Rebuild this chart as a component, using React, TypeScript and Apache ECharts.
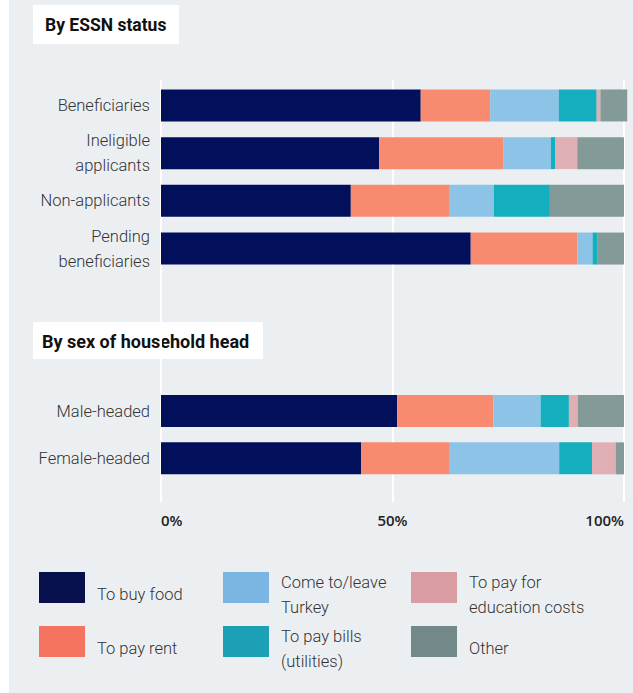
import React, { useEffect, useRef } from "react";
import * as echarts from "echarts";

const categoriesStatus = ["Beneficiaries", "Ineligible\napplicants", "Non-applicants", "Pending\nbeneficiaries"];
const categoriesSex = ["Male-headed", "Female-headed"];

const seriesNames = [
  "To buy food",
  "To pay rent",
  "Come to/leave Turkey",
  "To pay bills (utilities)",
  "To pay for education costs",
  "Other",
];
const legendLabels = [
  ["To buy food"],
  ["To pay rent"],
  ["Come to/leave", "Turkey"],
  ["To pay bills", "(utilities)"],
  ["To pay for", "education costs"],
  ["Other"],
];

const foodStatus = [56.1, 47.1, 41.0, 66.9];
const rentStatus = [15.0, 26.9, 21.2, 23.0];
const travelStatus = [14.8, 10.2, 9.7, 3.3];
const billsStatus = [8.2, 0.9, 12.1, 1.0];
const educationStatus = [0.8, 4.8, 0, 0];
const otherStatus = [5.8, 10.1, 16.0, 5.8];

const foodSex = [51.0, 43.2];
const rentSex = [20.8, 19.0];
const travelSex = [10.2, 23.8];
const billsSex = [6.1, 7.1];
const educationSex = [1.9, 5.1];
const otherSex = [10.0, 1.8];

const xTicks = [0, 50, 100];

const barColors = ["#020F5B", "#F88A6F", "#8DC3E7", "#13AFBF", "#DFAFB3", "#849A99"];
const legendColors = ["#07104D", "#F47460", "#7BB6E3", "#1CA0B5", "#D89CA2", "#738989"];

const FONT = '"Roboto", sans-serif';

export default function App() {
  const ref = useRef<HTMLDivElement>(null);

  useEffect(() => {
    if (!ref.current) return;
    const chart = echarts.init(ref.current, undefined, { renderer: "svg" });

    const statusData = [foodStatus, rentStatus, travelStatus, billsStatus, educationStatus, otherStatus];
    const sexData = [foodSex, rentSex, travelSex, billsSex, educationSex, otherSex];

    const series: any[] = [];
    seriesNames.forEach((name, i) => {
      series.push({
        type: "bar",
        name,
        stack: "status",
        xAxisIndex: 0,
        yAxisIndex: 0,
        barWidth: 32,
        clip: false,
        itemStyle: { color: barColors[i] },
        data: statusData[i],
      });
      series.push({
        type: "bar",
        name,
        stack: "sex",
        xAxisIndex: 1,
        yAxisIndex: 1,
        barWidth: 32,
        clip: false,
        itemStyle: { color: barColors[i] },
        data: sexData[i],
      });
    });

    // legend: 3 columns x 2 rows
    const colLeft = [39, 223, 411];
    const rowTop = [572, 626];
    const order = [
      [0, 0, 0],
      [1, 0, 1],
      [2, 1, 0],
      [3, 1, 1],
      [4, 2, 0],
      [5, 2, 1],
    ];
    const LH = 25;
    const PADTOP = 14;
    const legends = order.map(([idx, col, row]) => {
      const lines = legendLabels[idx];
      return {
        orient: "vertical",
        left: colLeft[col],
        top: rowTop[row],
        padding: 0,
        itemWidth: 46,
        itemHeight: 31,
        icon: "rect",
        selectedMode: false,
        data: [{ name: seriesNames[idx], itemStyle: { color: legendColors[idx] } }],
        formatter: () => lines.map((l) => `{t|${l}}`).join("\n"),
        textStyle: {
          padding: [PADTOP, 0, 0, 7],
          rich: {
            t: {
              fontFamily: FONT,
              fontSize: 16.5,
              fontWeight: 300,
              lineHeight: LH,
              color: "#333333",
            },
          },
        },
      };
    });

    const catLabel = {
      fontFamily: FONT,
      fontSize: 16.5,
      fontWeight: 300,
      lineHeight: 25,
      color: "#333333",
      margin: 11,
    };

    chart.setOption({
      animation: false,
      backgroundColor: "transparent",
      graphic: [
        { type: "rect", shape: { x: 33, y: 5, width: 146, height: 39 }, style: { fill: "#ffffff" } },
        {
          type: "text",
          x: 45,
          y: 25,
          style: {
            text: "By ESSN status",
            font: `bold 17.5px ${FONT}`,
            fill: "#111111",
            verticalAlign: "middle",
          },
        },
        { type: "rect", shape: { x: 33, y: 322, width: 230, height: 37 }, style: { fill: "#ffffff" } },
        {
          type: "text",
          x: 42,
          y: 341,
          style: {
            text: "By sex of household head",
            font: `bold 18px ${FONT}`,
            fill: "#111111",
            verticalAlign: "middle",
          },
        },
      ],
      legend: legends,
      grid: [
        { left: 161, right: 9, top: 81.6, height: 190.8 },
        { left: 161, right: 9, top: 387.4, height: 94.6 },
        { left: 161, right: 9, top: 80, bottom: 191 },
      ],
      xAxis: [
        { type: "value", gridIndex: 0, min: 0, max: 100, show: false },
        { type: "value", gridIndex: 1, min: 0, max: 100, show: false },
        {
          type: "value",
          gridIndex: 2,
          min: xTicks[0],
          max: xTicks[xTicks.length - 1],
          interval: xTicks[1] - xTicks[0],
          axisLine: { show: false },
          axisTick: { show: false },
          splitLine: { show: true, lineStyle: { color: "#ffffff", width: 2 } },
          axisLabel: {
            formatter: "{value}%",
            fontFamily: '"Open Sans", sans-serif',
            fontWeight: 600,
            fontSize: 15,
            color: "#222222",
            margin: 10,
            alignMinLabel: "left",
            alignMaxLabel: "right",
          },
        },
      ],
      yAxis: [
        {
          type: "category",
          gridIndex: 0,
          inverse: true,
          data: categoriesStatus,
          axisLine: { show: false },
          axisTick: { show: false },
          splitLine: { show: false },
          axisLabel: catLabel,
        },
        {
          type: "category",
          gridIndex: 1,
          inverse: true,
          data: categoriesSex,
          axisLine: { show: false },
          axisTick: { show: false },
          splitLine: { show: false },
          axisLabel: catLabel,
        },
        { type: "value", gridIndex: 2, show: false },
      ],
      series,
    });

    return () => chart.dispose();
  }, []);

  return (
    <div style={{ position: "fixed", left: 0, top: 0, width: 633, height: 693, background: "#ffffff" }}>
      <div style={{ position: "absolute", left: 9, top: 0, right: 0, bottom: 0, background: "#ECEFF2" }} />
      <div ref={ref} style={{ position: "absolute", left: 0, top: 0, width: 633, height: 693 }} />
    </div>
  );
}
